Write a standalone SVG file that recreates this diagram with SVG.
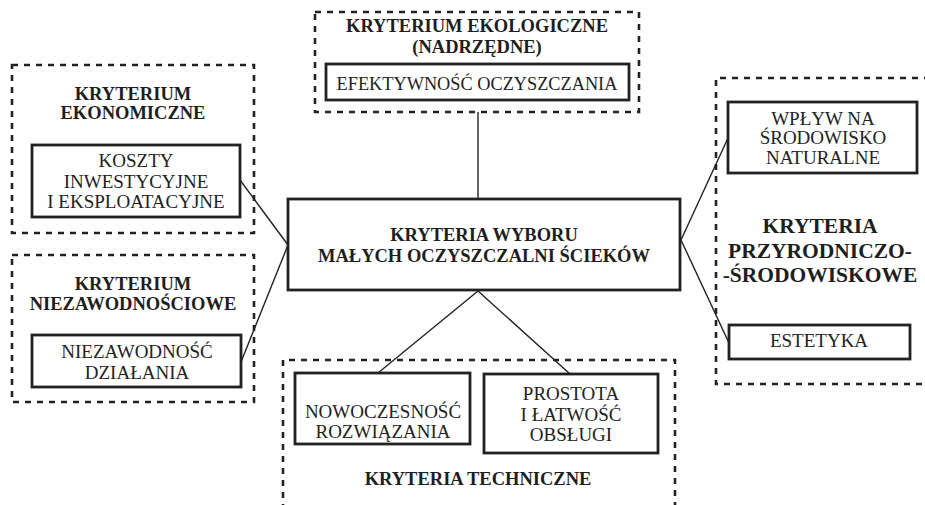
<svg xmlns="http://www.w3.org/2000/svg" width="925" height="505" viewBox="0 0 925 505">
<style>
.dash{fill:none;stroke:#222;stroke-width:2.6;stroke-dasharray:6 6}
.box{fill:#fff;stroke:#222;stroke-width:2.8}
.t{font-family:"Liberation Serif","Times New Roman",serif;font-weight:bold;font-size:18.5px;fill:#1e1e1e;text-anchor:middle}
.big{font-size:21.5px}
.r{font-family:"Liberation Serif","Times New Roman",serif;font-size:19px;fill:#222;text-anchor:middle}
.c{fill:none;stroke:#222;stroke-width:1.4}
</style>
<rect width="925" height="505" fill="#fff"/>
<g id="connectors">
<line class="c" x1="478" y1="112" x2="478" y2="199"/>
<line class="c" x1="240" y1="180" x2="288" y2="245"/>
<line class="c" x1="241" y1="362" x2="288" y2="245"/>
<line class="c" x1="681" y1="240" x2="728" y2="138"/>
<line class="c" x1="681" y1="240" x2="729" y2="343"/>
<line class="c" x1="478" y1="291" x2="378" y2="373"/>
<line class="c" x1="478" y1="291" x2="570" y2="374"/>
</g>
<g id="ekologiczne">
<rect class="dash" x="315" y="12" width="324" height="100"/>
<text class="t" x="477" y="32">KRYTERIUM EKOLOGICZNE</text>
<text class="t" x="477" y="53">(NADRZĘDNE)</text>
<rect class="box" x="326" y="64" width="303" height="36"/>
<text class="r" x="477" y="90" style="font-size:18.3px">EFEKTYWNOŚĆ OCZYSZCZANIA</text>
</g>
<g id="ekonomiczne">
<rect class="dash" x="12" y="65" width="242" height="168"/>
<text class="t" x="133" y="100">KRYTERIUM</text>
<text class="t" x="133" y="119">EKONOMICZNE</text>
<rect class="box" x="32" y="145" width="208" height="72"/>
<text class="r" x="136" y="167">KOSZTY</text>
<text class="r" x="136" y="188">INWESTYCYJNE</text>
<text class="r" x="136" y="208">I EKSPLOATACYJNE</text>
</g>
<g id="niezawodnosciowe">
<rect class="dash" x="12" y="255" width="242" height="147"/>
<text class="t" x="133" y="290">KRYTERIUM</text>
<text class="t" x="133" y="310">NIEZAWODNOŚCIOWE</text>
<rect class="box" x="32" y="335" width="209" height="52"/>
<text class="r" x="137" y="358">NIEZAWODNOŚĆ</text>
<text class="r" x="137" y="379">DZIAŁANIA</text>
</g>
<g id="centralny">
<rect class="box" x="288" y="199" width="392" height="91"/>
<text class="t" x="484" y="241">KRYTERIA WYBORU</text>
<text class="t" x="484" y="262">MAŁYCH OCZYSZCZALNI ŚCIEKÓW</text>
</g>
<g id="przyrodnicze">
<path class="dash" d="M930 78 H716 V384 H930"/>
<rect class="box" x="728" y="102" width="189" height="71"/>
<text class="r" x="823" y="125">WPŁYW NA</text>
<text class="r" x="823" y="144">ŚRODOWISKO</text>
<text class="r" x="823" y="164">NATURALNE</text>
<text class="t big" x="820" y="233">KRYTERIA</text>
<text class="t big" x="820" y="258">PRZYRODNICZO-</text>
<text class="t big" x="820" y="282">-ŚRODOWISKOWE</text>
<rect class="box" x="729" y="325" width="181" height="34"/>
<text class="r" x="819" y="347">ESTETYKA</text>
</g>
<g id="techniczne">
<path class="dash" d="M283 510 V360 H675 V510"/>
<rect class="box" x="295" y="373" width="175" height="71"/>
<text class="r" x="383" y="418">NOWOCZESNOŚĆ</text>
<text class="r" x="383" y="438">ROZWIĄZANIA</text>
<rect class="box" x="484" y="374" width="174" height="79"/>
<text class="r" x="571" y="400">PROSTOTA</text>
<text class="r" x="571" y="421">I ŁATWOŚĆ</text>
<text class="r" x="571" y="441">OBSŁUGI</text>
<text class="t" x="478" y="485">KRYTERIA TECHNICZNE</text>
</g>
</svg>
